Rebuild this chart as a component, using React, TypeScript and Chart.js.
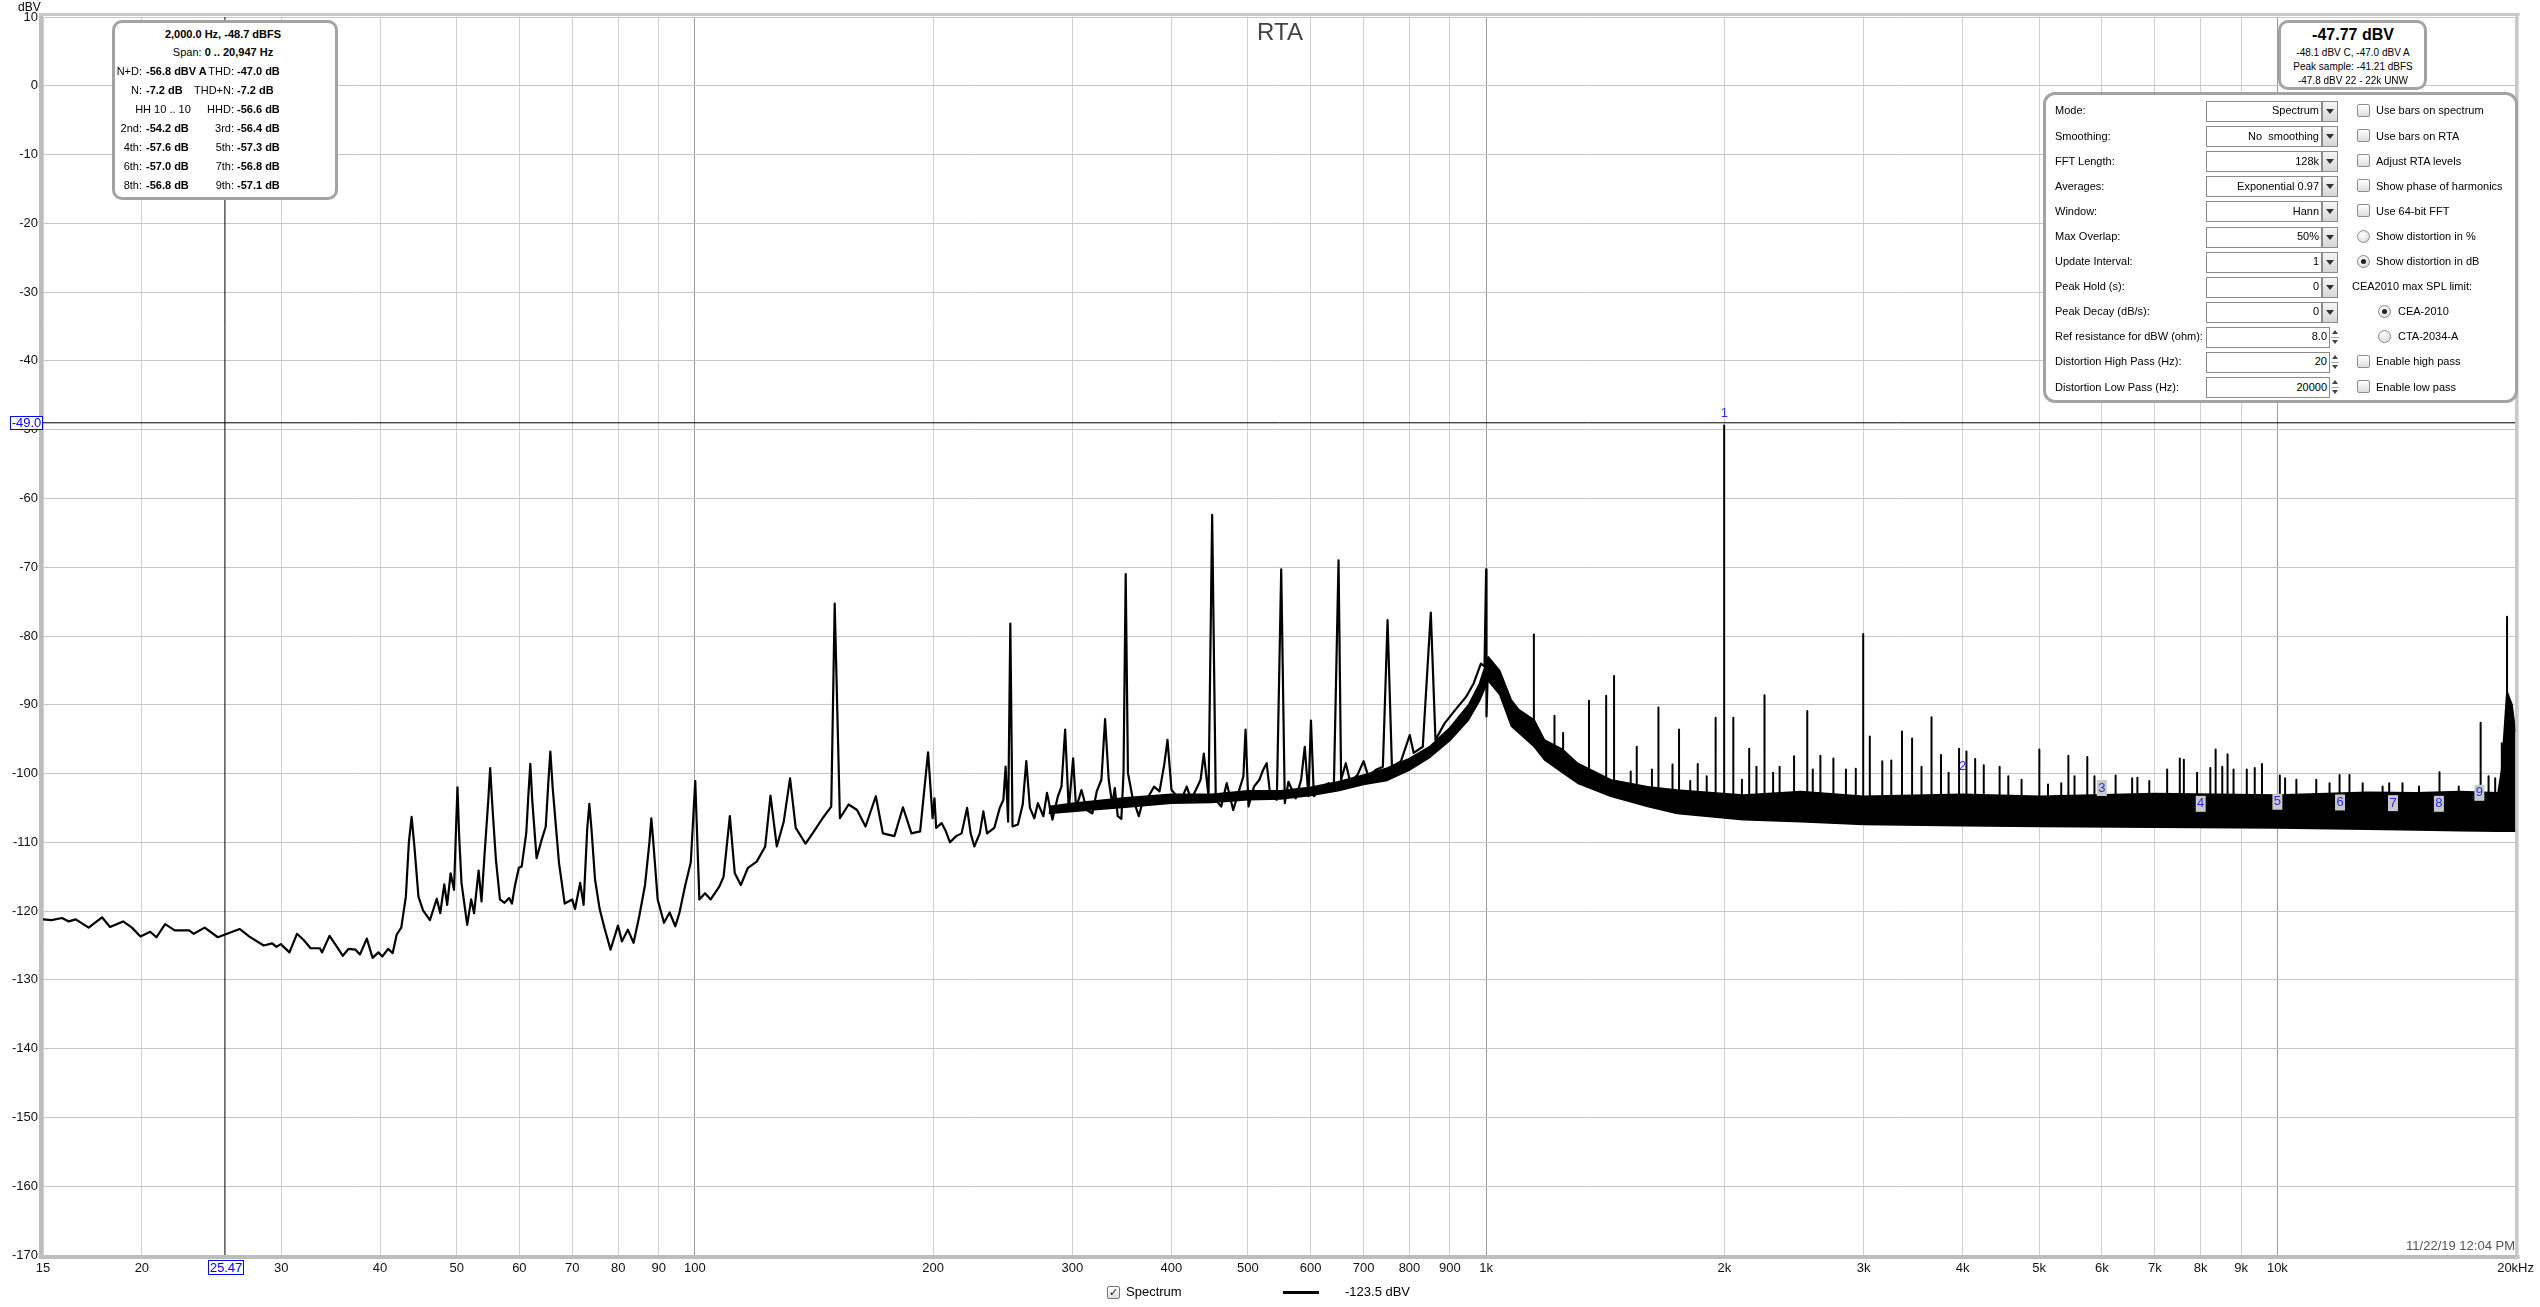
import React, { useEffect, useRef } from "react";
import { Chart, registerables } from "chart.js";
Chart.register(...registerables);

const W = 2540;
const H = 1307;
const FONT = '"Liberation Sans", Arial, sans-serif';

// ---------- data ----------
const traceFreq = [
  15.0, 15.38, 15.85, 16.17, 16.5, 17.13, 17.81, 18.23, 18.94, 19.43, 19.92, 20.49, 20.87, 21.4, 22.01, 22.95, 23.26, 24.01, 24.95, 26.58,
  27.35, 28.51, 29.23, 29.58, 29.97, 30.73, 31.41, 32.03, 32.68, 33.57, 33.79, 34.53, 35.29, 35.89, 36.49, 37.23, 37.73, 38.49, 39.14, 39.81,
  40.27, 40.95, 41.5, 41.99, 42.55, 43.12, 43.5, 43.85, 44.2, 44.73, 45.33, 46.25, 47.18, 47.66, 48.22, 48.63, 49.12, 49.61, 49.9, 50.11, 50.35, 50.7, 51.55, 52.15,
  52.59, 53.29, 53.74, 54.2, 54.8, 55.11, 55.45, 56.04, 56.7, 57.46, 58.23, 58.72, 59.21, 59.91, 60.41, 61.22, 61.6, 61.94, 62.3, 63.08, 64.03, 64.79, 65.3, 65.66, 66.1, 67.33,
  68.46, 69.96, 70.55, 71.61, 72.33, 73.1, 73.55, 74.0, 74.78, 75.79, 76.92, 78.23, 79.94, 80.87, 82.27, 83.65, 85.06, 86.49, 87.6, 88.09, 88.6, 89.73, 91.39, 92.9,
  94.46, 95.57, 97.17, 98.81, 100.1, 101.3, 103.0, 104.7, 107.4, 108.7, 110.7, 112.3, 114.3, 116.7, 119.7, 122.7, 124.6, 126.9, 129.5, 131.9,
  134.1, 138.0, 141.4, 145.0, 148.7, 150.2, 152.5, 156.4, 160.3, 164.3, 169.3, 172.8, 178.7, 183.2, 187.8, 192.6, 197.1, 199.7, 200.8, 201.8,
  205.0, 207.2, 210.1, 213.9, 217.3, 220.8, 223.1, 225.5, 229.1, 231.5, 234.0, 239.0, 242.8, 245.4, 247.0, 248.8, 250.4, 252.0, 256.0, 259.6,
  262.3, 265.1, 268.5, 271.3, 275.7, 278.6, 283.0, 287.6, 290.6, 293.7, 296.8, 300.6, 303.2, 308.0, 312.9, 317.9, 322.0, 326.4, 329.9, 333.4,
  336.9, 339.4, 342.3, 345.9, 348.1, 350.3, 352.6, 357.1, 363.9, 368.6, 374.5, 380.5, 386.5, 391.9, 395.6, 400.3, 405.4, 411.8, 418.4, 423.8,
  429.6, 435.6, 439.7, 445.8, 450.5, 455.3, 462.6, 470.0, 479.0, 486.2, 493.4, 496.5, 500.8, 508.8, 516.9, 522.4, 528.0, 533.6, 543.8, 550.8,
  556.6, 562.5, 574.5, 583.7, 589.9, 596.2, 600.6, 605.7, 618.6, 631.9, 642.0, 650.8, 655.7, 664.7, 673.2, 687.6, 700.0, 709.7, 724.9, 740.4,
  750.6, 760.2, 780.5, 800.6, 809.9, 831.6, 851.2, 862.9, 886.0, 914.6, 944.0, 964.2, 984.8, 995.2, 1000.0, 1001.0, 1006, 1016, 1033,
];
const traceLevel = [
  -121.2, -121.3, -121.0, -121.5, -121.2, -122.4, -120.9, -122.3, -121.5, -122.4, -123.7, -123.0, -123.8, -121.9, -122.8, -122.8, -123.3, -122.4, -123.8, -122.6,
  -123.7, -125.0, -124.7, -125.2, -124.8, -126.0, -123.3, -124.2, -125.4, -125.4, -126.0, -123.6, -125.2, -126.5, -125.5, -125.6, -126.3, -124.0, -126.8, -126.0,
  -126.6, -125.5, -126.1, -123.4, -122.4, -117.9, -110.0, -106.3, -110.5, -117.9, -119.9, -121.3, -118.2, -120.3, -116.1, -119.1, -114.5, -116.9, -108.0, -102.0, -109.0, -115.9, -122.0, -118.3,
  -120.3, -114.1, -118.6, -112.0, -104.0, -99.2, -104.5, -112.5, -118.3, -118.8, -118.1, -118.9, -116.4, -113.7, -113.5, -108.6, -103.0, -98.6, -104.0, -112.3, -109.6, -107.7, -101.0, -96.8, -102.0, -113.0,
  -118.9, -118.3, -119.7, -115.9, -119.1, -108.0, -104.4, -108.0, -115.4, -119.7, -122.6, -125.6, -122.1, -124.4, -122.7, -124.6, -120.7, -116.2, -110.0, -106.5, -110.0, -118.3, -121.7, -120.2,
  -122.2, -120.3, -116.4, -112.9, -101.1, -118.3, -117.4, -118.3, -116.4, -115.0, -106.2, -114.5, -116.2, -113.7, -112.8, -110.6, -103.2, -110.6, -107.0, -100.7,
  -107.9, -110.2, -108.4, -106.5, -104.8, -75.3, -106.5, -104.5, -105.3, -107.7, -103.3, -108.7, -109.1, -104.9, -108.7, -108.4, -96.9, -106.5, -103.6, -107.9,
  -107.2, -108.2, -110.0, -109.1, -108.7, -105.0, -108.7, -110.6, -108.7, -105.5, -108.7, -107.9, -105.0, -103.8, -99.0, -107.0, -78.2, -107.7, -107.4, -104.5,
  -98.2, -105.0, -106.5, -104.3, -106.2, -102.8, -106.7, -103.3, -101.9, -93.6, -105.3, -97.8, -105.0, -102.4, -105.3, -105.8, -102.6, -100.9, -92.1, -100.9,
  -104.5, -102.1, -106.2, -106.6, -99.9, -71.0, -99.9, -103.3, -106.2, -103.8, -103.3, -101.9, -102.6, -98.7, -95.1, -102.4, -103.1, -103.8, -101.9, -103.8,
  -102.4, -100.9, -97.1, -103.3, -62.4, -103.8, -104.8, -101.4, -105.3, -102.8, -100.4, -93.6, -104.8, -101.9, -100.9, -99.5, -98.5, -103.3, -103.8, -70.3,
  -104.3, -101.2, -103.6, -100.9, -96.1, -103.3, -92.3, -103.3, -102.1, -101.4, -101.9, -69.0, -100.9, -98.5, -101.2, -100.2, -98.2, -100.4, -99.5, -99.0,
  -77.7, -99.0, -98.2, -94.4, -97.0, -96.1, -76.6, -95.1, -92.7, -90.7, -88.8, -86.9, -84.0, -84.4, -70.3, -91.7, -83.3, -84.0, -85.9,
];

// noise band (upper / lower envelope of the dense FFT trace)
const bandFreq = [280, 300, 350, 400, 450, 500, 550, 600, 650, 700, 750, 800, 850, 900, 950, 980, 1006, 1040, 1076, 1100, 1150, 1185, 1250, 1305, 1437, 1600, 1743, 2113, 2500, 3000, 4000, 5000, 7000, 10000, 13000, 15000, 17000, 19000, 19200, 19500, 19800, 20000];
const bandTop = [-104.8, -104.3, -103.5, -103.0, -103.0, -102.5, -102.5, -102.0, -101.2, -100.2, -99.2, -97.8, -96.0, -93.3, -90.0, -87.0, -83.0, -85.0, -89.3, -90.7, -92.2, -95.1, -96.5, -98.5, -100.9, -101.9, -102.4, -103.1, -102.6, -103.3, -103.0, -103.3, -102.9, -103.1, -102.7, -102.8, -102.6, -102.8, -99.5, -88.0, -90.0, -94.0];
const bandBottom = [-105.8, -105.5, -104.9, -104.3, -104.2, -103.8, -103.7, -103.2, -102.5, -101.6, -101.0, -99.5, -97.6, -95.2, -92.2, -89.5, -86.5, -88.5, -93.1, -94.1, -96.1, -98.0, -99.9, -101.4, -103.3, -104.8, -105.8, -106.7, -107.0, -107.4, -107.6, -107.7, -107.8, -107.9, -108.1, -108.2, -108.3, -108.4, -108.4, -108.4, -108.4, -108.4];

// discrete tones above 1 kHz
const spikeFreq = [1149, 1220, 1251, 1349, 1418, 1451, 1523, 1550, 1620, 1651, 1720, 1753, 1811, 1851, 1900, 1950, 1999, 2053, 2105, 2150, 2196, 2248, 2305, 2349, 2450, 2546, 2587, 2645, 2747, 2849, 2932, 2996, 3054, 3167, 3251, 3354, 3454, 3550, 3655, 3757, 3841, 3960, 4046, 4150, 4255, 4456, 4570, 4750, 5002, 5130, 5331, 5443, 5541, 5751, 5872, 6245, 6553, 6654, 6888, 7256, 7528, 7617, 7916, 8227, 8355, 8518, 8650, 8802, 9148, 9362, 9561, 10071, 10227, 10568, 11198, 11639, 11983, 12334, 12817, 13582, 13846, 14392, 15101, 16028, 16951, 18066, 18488, 18848, 19215, 19510];
const spikeLevel = [-79.8, -91.6, -94.1, -89.4, -88.7, -85.8, -99.7, -96.1, -99.4, -90.4, -98.7, -93.6, -101.1, -98.6, -100.4, -91.9, -49.4, -91.9, -100.9, -96.4, -99.0, -88.6, -99.9, -99.0, -97.5, -90.9, -99.4, -97.4, -97.8, -99.4, -99.3, -79.7, -94.6, -98.2, -98.1, -93.9, -94.9, -99.0, -91.8, -97.3, -99.9, -96.4, -96.8, -97.9, -98.8, -99.0, -100.4, -100.9, -96.5, -101.6, -101.4, -97.4, -100.4, -97.6, -100.4, -100.3, -100.7, -100.6, -101.1, -99.4, -97.8, -98.0, -99.9, -99.2, -96.5, -99.0, -97.2, -99.4, -99.4, -99.2, -98.6, -100.3, -100.7, -100.9, -100.9, -101.4, -100.2, -100.2, -101.4, -101.9, -101.4, -101.4, -101.9, -99.8, -101.9, -92.6, -100.4, -100.7, -95.6, -77.2];
const spikeBase = [-94.0, -97.0, -98.0, -100.5, -101.5, -101.8, -102.5, -103.0, -103.2, -103.5, -104.0, -104.0, -104.2, -104.5, -104.5, -104.5, -104.5, -104.5, -104.5, -104.5, -104.5, -104.5, -105.0, -105.0, -105.0, -105.0, -105.0, -105.0, -105.0, -105.0, -105.0, -105.0, -105.0, -105.0, -105.0, -105.0, -105.0, -105.0, -105.0, -105.0, -105.0, -105.0, -105.0, -105.0, -105.0, -105.0, -105.0, -105.0, -105.0, -105.0, -105.0, -105.0, -105.0, -105.0, -105.0, -105.0, -105.0, -105.0, -105.0, -105.0, -105.0, -105.0, -105.0, -105.0, -105.0, -105.0, -105.0, -105.0, -105.0, -105.0, -105.0, -105.0, -105.0, -105.0, -105.0, -105.0, -105.0, -105.0, -105.0, -105.0, -105.0, -105.0, -105.0, -105.0, -105.0, -104.0, -104.0, -104.0, -102.0, -100.0];

// harmonic markers
const harmonicFreq = [2000, 4000, 6000, 8000, 10000, 12000, 14000, 16000, 18000];
const harmonicLabelLevel = [-47.6, -98.9, -102.1, -104.4, -104.1, -104.2, -104.3, -104.4, -102.8];
const harmonicLabels = ["1", "2", "3", "4", "5", "6", "7", "8", "9"];
const harmonicBoxed = [false, false, true, true, true, true, true, true, true];

// cursor
const cursorFreq = 25.47;
const cursorLevel = -49.0;

// axes
const yMin = -170;
const yMax = 10;
const yStep = 10;
const xMin = 15;
const xMax = 20000;
const xTickValues = [15, 20, 30, 40, 50, 60, 70, 80, 90, 100, 200, 300, 400, 500, 600, 700, 800, 900, 1000, 2000, 3000, 4000, 5000, 6000, 7000, 8000, 9000, 10000, 20000];
const xTickLabels = ["15", "20", "30", "40", "50", "60", "70", "80", "90", "100", "200", "300", "400", "500", "600", "700", "800", "900", "1k", "2k", "3k", "4k", "5k", "6k", "7k", "8k", "9k", "10k", "20kHz"];
const xMajorGrid = [100, 1000, 10000];

// info panel
const infoLeftLabels = ["N+D:", "N:", "", "2nd:", "4th:", "6th:", "8th:"];
const infoLeftValues = ["-56.8 dBV A", "-7.2 dB", "", "-54.2 dB", "-57.6 dB", "-57.0 dB", "-56.8 dB"];
const infoRightLabels = ["THD:", "THD+N:", "HHD:", "3rd:", "5th:", "7th:", "9th:"];
const infoRightValues = ["-47.0 dB", "-7.2 dB", "-56.6 dB", "-56.4 dB", "-57.3 dB", "-56.8 dB", "-57.1 dB"];

// settings panel
const settingLabels = ["Mode:", "Smoothing:", "FFT Length:", "Averages:", "Window:", "Max Overlap:", "Update Interval:", "Peak Hold (s):", "Peak Decay (dB/s):", "Ref resistance for dBW (ohm):", "Distortion High Pass (Hz):", "Distortion Low Pass (Hz):"];
const settingValues = ["Spectrum", "No  smoothing", "128k", "Exponential 0.97", "Hann", "50%", "1", "0", "0", "8.0", "20", "20000"];
const settingSpin = [false, false, false, false, false, false, false, false, false, true, true, true];
const optionKinds = ["cb", "cb", "cb", "cb", "cb", "radio", "radioOn", "text", "radioOnIndent", "radioIndent", "cb", "cb"];
const optionTexts = ["Use bars on spectrum", "Use bars on RTA", "Adjust RTA levels", "Show phase of harmonics", "Use 64-bit FFT", "Show distortion in %", "Show distortion in dB", "CEA2010 max SPL limit:", "CEA-2010", "CTA-2034-A", "Enable high pass", "Enable low pass"];

// ---------- helpers ----------
const Txt = ({ x, y, s = 11, b = false, a = "left", c = "#000", children }: any) => {
  const style: any = {
    position: "absolute",
    top: y - s * 0.6,
    fontSize: s,
    lineHeight: `${s * 1.2}px`,
    fontWeight: b ? "bold" : "normal",
    color: c,
    whiteSpace: "pre",
    fontFamily: FONT,
  };
  if (a === "left") style.left = x;
  else if (a === "right") style.right = W - x;
  else {
    style.left = x;
    style.transform = "translateX(-50%)";
  }
  return <div style={style}>{children}</div>;
};

const Box = ({ l, t, w, h, r = 10 }: any) => (
  <div
    style={{
      position: "absolute",
      left: l,
      top: t,
      width: w,
      height: h,
      boxSizing: "border-box",
      border: "3px solid #a3a3a3",
      borderRadius: r,
      background: "#fff",
    }}
  />
);

const CheckBox = ({ x, y }: any) => (
  <div
    style={{
      position: "absolute",
      left: x,
      top: y - 7,
      width: 13,
      height: 13,
      boxSizing: "border-box",
      border: "1px solid #8c8c8c",
      borderRadius: 2,
      background: "linear-gradient(#ffffff, #dedede)",
    }}
  />
);

const Radio = ({ x, y, on }: any) => (
  <div
    style={{
      position: "absolute",
      left: x,
      top: y - 7,
      width: 13,
      height: 13,
      boxSizing: "border-box",
      border: "1px solid #8c8c8c",
      borderRadius: "50%",
      background: "radial-gradient(circle at 40% 35%, #ffffff, #d4d4d4)",
    }}
  >
    {on ? (
      <div style={{ position: "absolute", left: 3, top: 3, width: 5, height: 5, borderRadius: "50%", background: "#222" }} />
    ) : null}
  </div>
);

// ---------- chart plugins ----------
const frameAndMarkers = {
  id: "frameAndMarkers",
  afterDatasetsDraw(chart: any) {
    const { ctx, scales } = chart;
    const xs = scales.x;
    const ys = scales.y;
    ctx.save();
    ctx.font = `13px ${FONT}`;
    ctx.textAlign = "center";
    ctx.textBaseline = "middle";
    harmonicFreq.forEach((f, i) => {
      const px = xs.getPixelForValue(f);
      const py = ys.getPixelForValue(harmonicLabelLevel[i]);
      if (harmonicBoxed[i]) {
        ctx.fillStyle = "#c9c9c9";
        ctx.fillRect(px - 5, py - 8, 10, 16);
      }
      ctx.fillStyle = "#2a2aff";
      ctx.fillText(harmonicLabels[i], px, py);
    });
    ctx.restore();
  },
  afterDraw(chart: any) {
    const { ctx, chartArea } = chart;
    const { left, right, top, bottom } = chartArea;
    ctx.save();
    ctx.fillStyle = "#bdbdbd";
    ctx.fillRect(left - 4, top - 4, 4, bottom - top + 8);
    ctx.fillRect(left - 4, bottom, right - left + 8, 4);
    ctx.fillStyle = "#c8c8c8";
    ctx.fillRect(left - 4, top - 4, right - left + 8, 3);
    ctx.fillRect(right, top - 4, 3, bottom - top + 8);
    ctx.restore();
  },
};

export default function App() {
  const canvasRef = useRef<HTMLCanvasElement | null>(null);

  useEffect(() => {
    document.body.style.margin = "0";
    document.body.style.background = "#fff";
    const canvas = canvasRef.current;
    if (!canvas) return;

    const trace = traceFreq.map((f, i) => ({ x: f, y: traceLevel[i] }));
    const top = bandFreq.map((f, i) => ({ x: f, y: bandTop[i] }));
    const bottom = bandFreq.map((f, i) => ({ x: f, y: bandBottom[i] }));
    const spikes: any[] = [];
    spikeFreq.forEach((f, i) => {
      spikes.push({ x: f, y: spikeBase[i] });
      spikes.push({ x: f, y: spikeLevel[i] });
      spikes.push({ x: f, y: spikeBase[i] });
    });

    const line = (data: any[], width: number, extra: any = {}) => ({
      data,
      borderColor: "#000",
      backgroundColor: "#000",
      borderWidth: width,
      pointRadius: 0,
      tension: 0,
      fill: false,
      borderJoinStyle: "round",
      ...extra,
    });

    const chart = new Chart(canvas, {
      type: "line",
      data: {
        datasets: [
          line([{ x: xMin, y: cursorLevel }, { x: xMax, y: cursorLevel }], 1),
          line([{ x: cursorFreq, y: yMin }, { x: cursorFreq, y: yMax }], 1),
          line(trace, 2.2),
          line(spikes, 2),
          line(top, 1.5, { fill: "+1" }),
          line(bottom, 1.5),
        ],
      },
      options: {
        animation: false,
        responsive: false,
        devicePixelRatio: 1,
        events: [],
        layout: { padding: { top: 17, right: 21, left: 0, bottom: 0 } },
        plugins: { legend: { display: false }, tooltip: { enabled: false }, title: { display: false } },
        scales: {
          x: {
            type: "logarithmic",
            min: xMin,
            max: xMax,
            afterBuildTicks: (scale: any) => {
              scale.ticks = xTickValues.map((v) => ({ value: v }));
            },
            afterFit: (scale: any) => {
              scale.height = H - 1255;
            },
            ticks: {
              autoSkip: false,
              maxRotation: 0,
              minRotation: 0,
              padding: 6,
              color: "#111",
              font: { family: FONT, size: 13 },
              callback: (_v: any, i: number) => xTickLabels[i] ?? "",
            },
            grid: {
              drawTicks: false,
              color: (ctx: any) => (ctx.tick && xMajorGrid.includes(ctx.tick.value) ? "#9c9c9c" : "#cfcfcf"),
              lineWidth: 1,
            },
            border: { display: false },
          },
          y: {
            type: "linear",
            min: yMin,
            max: yMax,
            afterFit: (scale: any) => {
              scale.width = 43;
            },
            ticks: {
              stepSize: yStep,
              padding: 5,
              color: "#111",
              font: { family: FONT, size: 13 },
            },
            grid: { drawTicks: false, color: "#c6c6c6", lineWidth: 1 },
            border: { display: false },
          },
        },
      } as any,
      plugins: [frameAndMarkers],
    });
    return () => chart.destroy();
  }, []);

  const rowY = (i: number) => 111 + 25.1 * i;

  return (
    <div style={{ position: "fixed", left: 0, top: 0, width: W, height: H, background: "#fff", overflow: "hidden", fontFamily: FONT }}>
      <canvas ref={canvasRef} width={W} height={H} style={{ position: "absolute", left: 0, top: 0, width: W, height: H }} />

      <Txt x={18} y={7} s={12}>dBV</Txt>
      <Txt x={1280} y={32} s={24} a="center" c="#444">RTA</Txt>

      <div style={{ position: "absolute", left: 10, top: 416, width: 33, height: 14, boxSizing: "border-box", border: "1px solid #0000ff", background: "#fff", color: "#0000ff", fontSize: 13, lineHeight: "12px", textAlign: "center" }}>-49.0</div>
      <div style={{ position: "absolute", left: 208, top: 1260, width: 36, height: 15, boxSizing: "border-box", border: "1px solid #0000ff", background: "#fff", color: "#0000ff", fontSize: 13, lineHeight: "13px", textAlign: "center" }}>25.47</div>

      <Box l={112} t={20} w={226} h={180} r={10} />
      <Txt x={223} y={35} s={11} b a="center">2,000.0 Hz, -48.7 dBFS</Txt>
      <Txt x={223} y={53} s={11} a="center">
        Span: <b>0 .. 20,947 Hz</b>
      </Txt>
      {infoLeftLabels.map((lab, i) => (
        <React.Fragment key={"il" + i}>
          {lab ? <Txt x={142} y={72 + 19 * i} a="right">{lab}</Txt> : null}
          {infoLeftValues[i] ? <Txt x={146} y={72 + 19 * i} b>{infoLeftValues[i]}</Txt> : null}
          <Txt x={234} y={72 + 19 * i} a="right">{infoRightLabels[i]}</Txt>
          <Txt x={237} y={72 + 19 * i} b>{infoRightValues[i]}</Txt>
        </React.Fragment>
      ))}
      <Txt x={163} y={110} a="center">HH 10 .. 10</Txt>

      <Box l={2278} t={20} w={149} h={70} r={10} />
      <Txt x={2353} y={35} s={16} b a="center">-47.77 dBV</Txt>
      <Txt x={2353} y={53} s={10} a="center">-48.1 dBV C, -47.0 dBV A</Txt>
      <Txt x={2353} y={67} s={10} a="center">Peak sample: -41.21 dBFS</Txt>
      <Txt x={2353} y={81} s={10} a="center">-47.8 dBV 22 - 22k UNW</Txt>

      <Box l={2043} t={92} w={475} h={311} r={12} />
      {settingLabels.map((lab, i) => {
        const y = rowY(i);
        const spin = settingSpin[i];
        const fieldRight = spin ? 2330 : 2322;
        return (
          <React.Fragment key={"s" + i}>
            <Txt x={2055} y={y} s={11}>{lab}</Txt>
            <div style={{ position: "absolute", left: 2206, top: y - 10, width: fieldRight - 2206, height: 21, boxSizing: "border-box", border: "1px solid #8a8a8a", background: "#fff" }} />
            <Txt x={fieldRight - 3} y={y} s={11} a="right">{settingValues[i]}</Txt>
            {spin ? (
              <div style={{ position: "absolute", left: 2331, top: y - 10, width: 8, height: 21 }}>
                <div style={{ position: "absolute", left: 1, top: 3, width: 0, height: 0, borderLeft: "3px solid transparent", borderRight: "3px solid transparent", borderBottom: "4px solid #444" }} />
                <div style={{ position: "absolute", left: 0, top: 10, width: 8, height: 1, background: "#aaa" }} />
                <div style={{ position: "absolute", left: 1, top: 13, width: 0, height: 0, borderLeft: "3px solid transparent", borderRight: "3px solid transparent", borderTop: "4px solid #444" }} />
              </div>
            ) : (
              <div style={{ position: "absolute", left: 2322, top: y - 10, width: 16, height: 21, boxSizing: "border-box", border: "1px solid #8a8a8a", background: "linear-gradient(#f6f6f6, #d6d6d6)" }}>
                <div style={{ position: "absolute", left: 3, top: 7, width: 0, height: 0, borderLeft: "4px solid transparent", borderRight: "4px solid transparent", borderTop: "5px solid #333" }} />
              </div>
            )}
            {optionKinds[i] === "cb" ? <CheckBox x={2357} y={y} /> : null}
            {optionKinds[i] === "radio" ? <Radio x={2357} y={y} on={false} /> : null}
            {optionKinds[i] === "radioOn" ? <Radio x={2357} y={y} on /> : null}
            {optionKinds[i] === "radioIndent" ? <Radio x={2378} y={y} on={false} /> : null}
            {optionKinds[i] === "radioOnIndent" ? <Radio x={2378} y={y} on /> : null}
            {optionKinds[i] === "text" ? (
              <Txt x={2352} y={y} s={11}>{optionTexts[i]}</Txt>
            ) : optionKinds[i].includes("Indent") ? (
              <Txt x={2398} y={y} s={11}>{optionTexts[i]}</Txt>
            ) : (
              <Txt x={2376} y={y} s={11}>{optionTexts[i]}</Txt>
            )}
          </React.Fragment>
        );
      })}

      <Txt x={2515} y={1246} s={13} a="right" c="#555">11/22/19 12:04 PM</Txt>

      <div style={{ position: "absolute", left: 1107, top: 1286, width: 13, height: 13, boxSizing: "border-box", border: "1px solid #777", borderRadius: 2, background: "linear-gradient(#fff,#ddd)", fontSize: 11, lineHeight: "11px", textAlign: "center", color: "#111", fontFamily: '"DejaVu Sans", sans-serif' }}>✓</div>
      <Txt x={1126} y={1292} s={13}>Spectrum</Txt>
      <div style={{ position: "absolute", left: 1283, top: 1291, width: 36, height: 3, background: "#000" }} />
      <Txt x={1345} y={1292} s={13}>-123.5 dBV</Txt>
    </div>
  );
}
